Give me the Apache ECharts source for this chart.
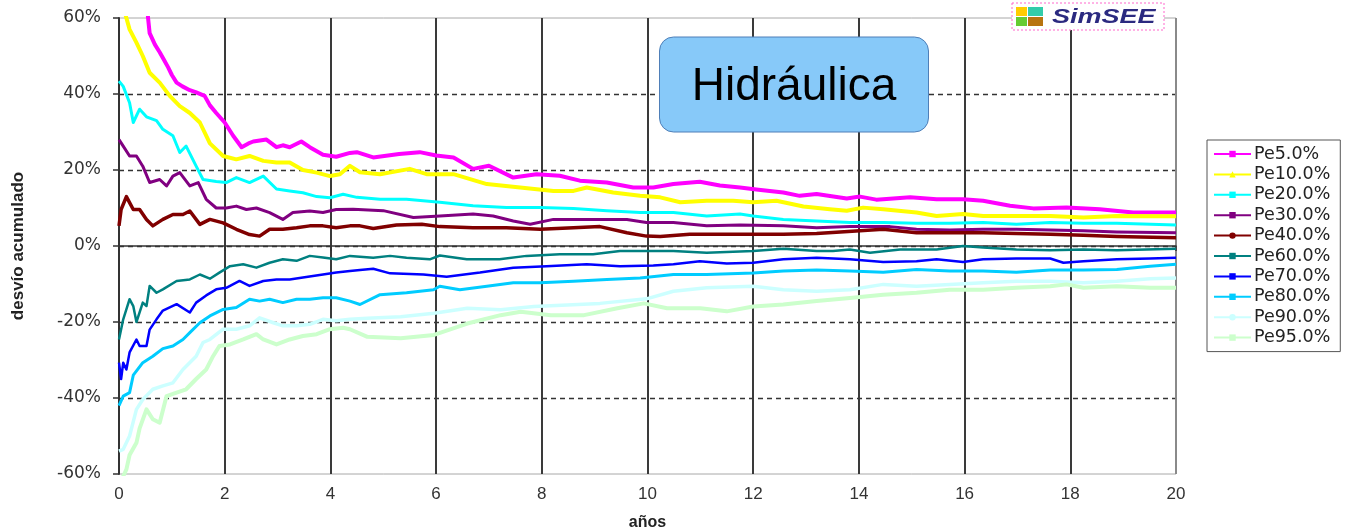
<!DOCTYPE html>
<html><head><meta charset="utf-8">
<script src="https://cdn.jsdelivr.net/npm/echarts@6/dist/echarts.min.js"></script>
<style>html,body{margin:0;padding:0;background:#fff}#c{width:1351px;height:531px}</style>
</head><body><div id="c"></div>
<script>
// values: [años, desvío %]
const pe5 = [[0,72],[0.3,68],[0.52,65],[0.55,60],[0.58,56],[0.68,53],[0.77,51],[0.85,49],[0.93,47],[1.0,45],[1.09,43],[1.2,42],[1.34,41],[1.45,40.5],[1.62,39.5],[1.72,37],[1.84,35],[2.0,32.5],[2.16,29],[2.32,26],[2.45,27],[2.54,27.5],[2.79,28],[2.98,26],[3.1,26.5],[3.23,26],[3.45,27.5],[3.61,26],[3.86,24],[4.11,23.5],[4.37,24.5],[4.5,24.7],[4.81,23.3],[5.3,24.2],[5.69,24.7],[6.0,23.8],[6.33,23.3],[6.7,20.3],[7.0,21.1],[7.46,18],[7.9,18.9],[8.34,18.5],[8.72,17.2],[9.23,16.7],[9.73,15.4],[10.11,15.4],[10.49,16.3],[10.99,16.9],[11.37,15.9],[11.75,15.4],[12.1,14.8],[12.57,14.1],[12.88,13.2],[13.2,13.7],[13.77,12.5],[14.02,13],[14.33,12.2],[14.97,12.8],[15.47,12.3],[15.97,12.3],[16.35,11.9],[16.86,10.6],[17.3,9.9],[17.93,10.1],[18.56,9.7],[19.19,8.8],[20,8.8]];
const pe10 = [[0,66],[0.1,62],[0.14,60],[0.2,57],[0.33,53.5],[0.45,50],[0.58,45.6],[0.77,43],[0.96,39.5],[1.15,36.8],[1.34,35],[1.53,32.5],[1.72,27],[1.97,23.7],[2.22,22.8],[2.47,23.7],[2.73,22.4],[2.98,22],[3.23,22],[3.48,20],[3.74,19.3],[3.99,18.4],[4.18,18.9],[4.37,21.1],[4.56,19.4],[4.94,18.9],[5.5,20.3],[5.82,18.9],[6.33,18.9],[6.96,16.3],[7.59,15.4],[8.22,14.5],[8.6,14.5],[8.85,15.4],[9.35,14.1],[9.86,13.2],[10.24,12.8],[10.62,11.5],[11.12,11.9],[11.62,11.9],[12.0,11.5],[12.44,11.9],[12.95,10.4],[13.45,9.7],[13.77,9.3],[14.08,10.1],[14.46,9.7],[15.09,8.8],[15.47,7.9],[15.97,8.4],[16.35,7.9],[16.98,7.9],[17.62,7.9],[18.25,7.5],[18.88,7.9],[20,7.8]];
const pe20 = [[0,43.4],[0.08,42],[0.2,37.7],[0.27,32.5],[0.39,36],[0.52,34],[0.71,33],[0.83,30.7],[1.02,29],[1.15,24.6],[1.27,26.3],[1.46,21],[1.59,17.5],[1.84,17],[2.03,16.7],[2.22,18],[2.47,16.7],[2.73,18.4],[2.98,15],[3.23,14.5],[3.48,14],[3.74,13],[3.99,12.7],[4.24,13.6],[4.5,12.8],[4.94,12.3],[5.44,12.3],[6.07,11.5],[6.7,10.6],[7.33,10.1],[7.97,10.1],[8.6,9.9],[9.23,9.3],[9.86,8.8],[10.49,8.8],[11.12,7.9],[11.75,8.4],[12.0,7.9],[12.57,7],[13.2,6.6],[13.83,6.2],[14.46,6.2],[15.09,6],[15.72,6],[16.35,6.2],[16.98,5.7],[17.62,6.2],[18.25,6],[18.88,6],[20,5.5]];
const pe30 = [[0,28],[0.08,26.3],[0.2,23.7],[0.33,23.7],[0.45,21],[0.58,16.7],[0.77,17.5],[0.9,15.8],[1.02,18.4],[1.15,19.3],[1.34,15.8],[1.5,16.7],[1.65,12.3],[1.84,10],[2.03,10],[2.22,10.5],[2.41,9.6],[2.6,10],[2.85,8.8],[3.1,7],[3.29,8.8],[3.61,9.2],[3.86,8.8],[4.11,9.6],[4.43,9.7],[5.0,9.3],[5.57,7.5],[6.07,7.9],[6.7,8.4],[7.08,7.9],[7.46,6.6],[7.78,5.7],[8.22,7],[8.85,7],[9.61,7],[9.98,6.2],[10.49,6.2],[11.12,5.3],[11.75,5.5],[12.57,5.3],[13.2,4.8],[13.83,5.1],[14.59,5.1],[15.09,4.4],[15.72,4.2],[16.35,4.4],[16.98,4.4],[17.62,4.2],[18.25,4],[18.88,3.7],[20,3.5]];
const pe40 = [[0,5.3],[0.04,9.6],[0.14,13],[0.2,11.4],[0.27,9.6],[0.39,9.6],[0.52,7],[0.64,5.3],[0.83,7],[1.02,8.3],[1.21,8.3],[1.34,9.2],[1.53,5.7],[1.72,7],[1.97,6.1],[2.22,4.4],[2.47,3],[2.66,2.6],[2.85,4.4],[3.1,4.4],[3.36,4.8],[3.61,5.3],[3.86,5.3],[4.11,4.8],[4.37,5.3],[4.56,5.3],[4.81,4.6],[5.25,5.5],[5.73,5.7],[6.07,5.1],[6.7,4.8],[7.33,4.8],[7.97,4.4],[8.6,4.8],[9.1,5.1],[9.61,3.5],[9.98,2.6],[10.24,2.5],[10.8,3.1],[11.44,3.1],[12.13,3.1],[12.57,3.1],[13.2,3.3],[14.02,4],[14.46,4.4],[15.09,3.5],[15.72,3.5],[16.35,3.5],[16.98,3.3],[17.62,3.1],[18.25,2.8],[18.88,2.5],[20,2.2]];
const pe60 = [[0,-24.6],[0.08,-19.3],[0.2,-14],[0.27,-15.8],[0.33,-20],[0.45,-14.9],[0.52,-15.8],[0.58,-10.5],[0.71,-12.3],[0.83,-11.4],[1.09,-9.2],[1.34,-8.8],[1.53,-7.5],[1.72,-8.6],[1.9,-7],[2.1,-5.3],[2.35,-4.8],[2.6,-5.7],[2.85,-4.4],[3.1,-3.5],[3.36,-3.9],[3.61,-2.6],[3.86,-3],[4.11,-3.5],[4.37,-2.6],[4.81,-3.1],[5.13,-2.6],[5.44,-3.1],[5.88,-3.5],[6.07,-2.5],[6.58,-3.5],[7.2,-3.5],[7.71,-2.6],[8.34,-2.2],[8.97,-2.2],[9.48,-1.3],[10.11,-1.3],[10.49,-1.3],[11.12,-1.8],[12.0,-1.3],[12.57,-0.7],[13.2,-1.3],[13.51,-1.3],[13.83,-0.9],[14.21,-1.8],[14.78,-0.9],[15.47,-0.9],[15.97,0],[16.35,-0.4],[16.98,-0.9],[17.62,-1.1],[18.25,-0.9],[18.88,-1.1],[20,-0.7]];
const pe70 = [[0,-30.7],[0.04,-35],[0.08,-30.7],[0.14,-32.5],[0.2,-28],[0.33,-24.6],[0.39,-26.3],[0.52,-26.3],[0.58,-22],[0.71,-19.3],[0.83,-17],[1.09,-15.3],[1.34,-17.5],[1.46,-14.9],[1.65,-13],[1.84,-11.4],[2.03,-11],[2.28,-9.2],[2.47,-10.5],[2.73,-9.2],[2.98,-8.8],[3.23,-8.8],[3.48,-8.3],[3.86,-7.5],[4.11,-7],[4.37,-6.6],[4.56,-6.3],[4.81,-6],[5.13,-7.2],[5.76,-7.5],[6.2,-8.1],[6.83,-7],[7.46,-5.7],[8.09,-5.3],[8.85,-4.8],[9.48,-5.3],[10.11,-5.1],[10.49,-4.8],[10.99,-4],[11.5,-4.6],[12.0,-4.4],[12.57,-3.5],[13.2,-3.1],[13.83,-3.5],[14.46,-4.2],[15.09,-4],[15.47,-3.5],[15.97,-4.2],[16.35,-3.5],[16.98,-3.3],[17.62,-3.3],[17.87,-4.4],[18.25,-4],[18.88,-3.5],[19.51,-3.3],[20,-3.1]];
const pe80 = [[0,-42],[0.08,-39.5],[0.2,-38.6],[0.27,-34],[0.45,-30.7],[0.64,-29],[0.83,-27],[1.02,-26.3],[1.21,-24.6],[1.34,-22.8],[1.53,-20.2],[1.72,-18.4],[1.97,-16.7],[2.22,-16.2],[2.47,-14],[2.66,-14.5],[2.85,-14],[3.1,-14.9],[3.36,-14],[3.61,-14],[3.86,-13.6],[4.11,-13.6],[4.37,-14.5],[4.56,-15.4],[4.94,-12.8],[5.44,-12.3],[5.95,-11.5],[6.07,-10.6],[6.45,-11.5],[6.96,-10.6],[7.46,-9.7],[7.97,-9.7],[8.6,-9.3],[9.23,-8.8],[9.86,-8.4],[10.49,-7.5],[11.12,-7.5],[12.0,-7.1],[12.57,-6.6],[13.2,-6.3],[13.83,-6.6],[14.46,-6.9],[15.09,-6.2],[15.72,-6.6],[16.35,-6.6],[16.98,-6.9],[17.62,-6.3],[18.25,-6.3],[18.88,-6.2],[19.51,-5.3],[20,-4.8]];
const pe90 = [[0,-54],[0.08,-53.5],[0.2,-50],[0.33,-43],[0.45,-40.4],[0.64,-37.7],[0.83,-36.8],[1.02,-36],[1.21,-32.5],[1.46,-29],[1.59,-25.4],[1.72,-24.6],[1.97,-21.9],[2.22,-21.9],[2.47,-21],[2.66,-18.9],[2.92,-20.2],[3.1,-21],[3.36,-21],[3.61,-20.6],[3.86,-19.3],[4.11,-19.7],[4.37,-19.3],[4.7,-19],[5.33,-18.6],[5.96,-17.7],[6.59,-16.4],[7.22,-16.8],[7.85,-15.9],[8.48,-15.5],[9.1,-15.1],[9.98,-13.9],[10.49,-11.9],[11.12,-11],[12.0,-10.6],[12.57,-11.5],[13.2,-11.9],[13.83,-11.5],[14.46,-10.1],[15.09,-10.6],[15.72,-10.1],[16.35,-9.7],[16.98,-9.3],[17.62,-9.3],[18.25,-9.7],[18.88,-9.3],[19.51,-8.6],[20,-8.4]];
const pe95 = [[0,-63],[0.1,-60],[0.14,-58.8],[0.2,-55],[0.33,-51.8],[0.39,-48],[0.52,-43],[0.64,-45.6],[0.77,-46.5],[0.9,-39.5],[1.09,-38.6],[1.27,-37.7],[1.46,-35],[1.65,-32.5],[1.78,-29],[1.9,-26.3],[2.1,-25.9],[2.35,-24.6],[2.6,-23.2],[2.73,-24.6],[2.98,-25.9],[3.23,-24.6],[3.48,-23.7],[3.74,-23.2],[3.99,-21.9],[4.24,-21.5],[4.37,-21.9],[4.7,-23.9],[5.33,-24.3],[5.96,-23.4],[6.59,-20.4],[7.22,-18.2],[7.6,-17.3],[8.17,-18.2],[8.8,-18.2],[9.43,-16.4],[9.93,-15.1],[10.37,-16.4],[11.0,-16.4],[11.5,-17.2],[12.0,-15.9],[12.57,-15.4],[13.2,-14.5],[13.83,-13.7],[14.46,-12.8],[15.09,-12.3],[15.72,-11.5],[16.35,-11.5],[16.98,-11],[17.62,-10.6],[17.93,-10.1],[18.25,-11],[18.88,-10.6],[19.51,-11],[20,-11]];

const seriesNames = ['Pe5.0%','Pe10.0%','Pe20.0%','Pe30.0%','Pe40.0%','Pe60.0%','Pe70.0%','Pe80.0%','Pe90.0%','Pe95.0%'];
const seriesData = [pe5, pe10, pe20, pe30, pe40, pe60, pe70, pe80, pe90, pe95];
const colors = ['#FF00FF','#FFFF00','#00FFFF','#800080','#800000','#008080','#0000FF','#00CCFF','#CCFFFF','#CCFFCC'];
const symbols = ['rect','triangle','rect','rect','circle','rect','rect','rect','circle','rect'];
const widths = [4,4,3,3,3.5,2.5,2.5,3,3.5,4];
const titleText = 'Hidráulica';
const logoText = 'SimSEE';

const narrow = "'Liberation Sans Narrow', 'Arial Narrow', 'Liberation Sans', sans-serif";
const chart = echarts.init(document.getElementById('c'), null, {renderer: 'canvas'});
const yLineColors = ['rgba(0,0,0,0)','#333','#333','#333','#333','#333','rgba(0,0,0,0)'];
const xLineColors = ['rgba(0,0,0,0)','#3a3a3a','#3a3a3a','#3a3a3a','#3a3a3a','#3a3a3a','#3a3a3a','#3a3a3a','#3a3a3a','#3a3a3a','#8a8a8a'];
chart.setOption({
  animation: false,
  backgroundColor: '#fff',
  grid: {left: 119, right: 175, top: 18, bottom: 57, show: true, borderColor: '#a8a8a8', borderWidth: 1, containLabel: false, outerBoundsMode: 'none'},
  xAxis: {
    type: 'value', min: 0, max: 20, interval: 2,
    name: 'años', nameLocation: 'middle', nameGap: 41,
    nameTextStyle: {fontFamily: narrow, fontWeight: 'bold', fontSize: 16, color: '#222'},
    axisLine: {lineStyle: {color: '#333', width: 1.5}},
    axisTick: {show: true, length: 5, lineStyle: {color: '#333', width: 1.5}},
    axisLabel: {fontFamily: narrow, fontSize: 17, color: '#333', margin: 12},
    splitLine: {show: true, lineStyle: {color: xLineColors, width: 2, type: 'solid'}}
  },
  yAxis: {
    type: 'value', min: -60, max: 60, interval: 20,
    name: 'desvío acumulado', nameLocation: 'middle', nameGap: 92, nameRotate: 90,
    nameTextStyle: {fontFamily: narrow, fontWeight: 'bold', fontSize: 17, color: '#222'},
    axisLine: {show: true, lineStyle: {color: '#333', width: 2}},
    axisTick: {show: true, length: 6, lineStyle: {color: '#333', width: 1.5}},
    axisLabel: {formatter: '{value}%', fontFamily: 'DejaVu Sans', fontSize: 17, color: '#333', margin: 18},
    splitLine: {show: true, lineStyle: {color: yLineColors, width: 1.3, type: [5, 4]}}
  },
  legend: {
    orient: 'vertical', left: 1207, top: 140,
    padding: [5, 10, 5, 6], itemGap: 2.4, itemWidth: 37, itemHeight: 8,
    borderColor: '#555', borderWidth: 1, backgroundColor: '#fff',
    textStyle: {fontFamily: 'DejaVu Sans', fontSize: 17.5, color: '#222', lineHeight: 18, padding: [0,0,0,-2]},
    data: seriesNames
  },
  series: seriesNames.map((n, i) => ({
    name: n, type: 'line', data: seriesData[i],
    showSymbol: false, symbol: symbols[i], symbolSize: 6,
    color: colors[i],
    lineStyle: {color: colors[i], width: widths[i], join: 'round'},
    itemStyle: {color: colors[i]},
    clip: true
  })),
  graphic: [
    {type: 'rect', z: 100, shape: {x: 1012, y: 3, width: 152, height: 27}, style: {fill: '#fff', stroke: '#ff66cc', lineWidth: 1, lineDash: [2, 2]}},
    {type: 'rect', z: 101, shape: {x: 1016, y: 7, width: 11, height: 9}, style: {fill: '#FFCC00'}},
    {type: 'rect', z: 101, shape: {x: 1028, y: 7, width: 15, height: 9}, style: {fill: '#33CCAA'}},
    {type: 'rect', z: 101, shape: {x: 1016, y: 17, width: 11, height: 9}, style: {fill: '#66CC33'}},
    {type: 'rect', z: 101, shape: {x: 1028, y: 17, width: 15, height: 9}, style: {fill: '#B87410'}},
    {type: 'text', z: 101, x: 1052, y: 17, scaleX: 1.35, style: {text: logoText, fill: '#2B2A80', font: 'italic bold 20px "Liberation Sans"', textVerticalAlign: 'middle', textAlign: 'left'}},
    {type: 'rect', z: 100, shape: {x: 659.5, y: 37, width: 269, height: 95, r: 14}, style: {fill: '#87C9F9', stroke: '#4F7FB8', lineWidth: 1}},
    {type: 'text', z: 101, x: 794, y: 87, style: {text: titleText, fill: '#000', font: '46px "Liberation Sans"', textAlign: 'center', textVerticalAlign: 'middle'}}
  ]
});
</script></body></html>
